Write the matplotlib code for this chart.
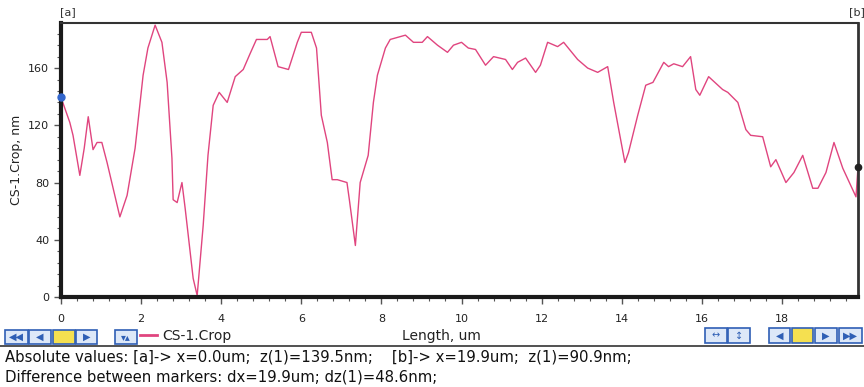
import matplotlib
matplotlib.use("Agg")
import matplotlib.pyplot as plt
from matplotlib.patches import Rectangle
from matplotlib.lines import Line2D
from matplotlib.ticker import MultipleLocator

# profile: length (um) and height (nm)
length_um = [0.0, 0.22, 0.3, 0.47, 0.58, 0.68, 0.8, 0.9, 1.02, 1.15, 1.47, 1.65,
             1.85, 2.05, 2.17, 2.35, 2.52, 2.65, 2.77, 2.8, 2.9, 3.02, 3.1, 3.3,
             3.4, 3.55, 3.67, 3.8, 3.95, 4.15, 4.35, 4.55, 4.72, 4.88, 5.15, 5.22,
             5.42, 5.68, 5.9, 6.0, 6.25, 6.38, 6.5, 6.65, 6.77, 6.9, 7.14, 7.2,
             7.35, 7.47, 7.67, 7.8, 7.9, 8.1, 8.22, 8.6, 8.8, 9.02, 9.15, 9.4,
             9.65, 9.8, 10.0, 10.17, 10.35, 10.6, 10.8, 11.1, 11.27, 11.4, 11.6,
             11.85, 11.97, 12.15, 12.4, 12.55, 12.9, 13.15, 13.4, 13.65, 13.8,
             14.08, 14.17, 14.4, 14.6, 14.78, 15.05, 15.17, 15.3, 15.52, 15.72,
             15.85, 15.95, 16.17, 16.52, 16.65, 16.9, 17.1, 17.22, 17.52, 17.72,
             17.85, 18.1, 18.3, 18.52, 18.77, 18.9, 19.1, 19.3, 19.52, 19.85, 19.9]
height_nm = [139.5, 122, 113, 85, 104, 126, 103, 108, 108, 94, 56, 71,
             104, 155, 174, 190, 178, 150, 97, 68, 66, 80, 62, 13,
             1, 50, 99, 134, 143, 136, 154, 159, 170, 180, 180, 182,
             161, 159, 178, 185, 185, 174, 127, 108, 82, 82, 80, 68,
             36, 80, 99, 136, 155, 174, 180, 183, 178, 178, 182, 176,
             171, 176, 178, 174, 173, 162, 168, 166, 159, 164, 167,
             157, 162, 178, 175, 178, 166, 160, 157, 161, 136,
             94, 101, 127, 148, 150, 164, 161, 163, 161, 168,
             145, 141, 154, 145, 143, 136, 117, 113, 112, 91,
             96, 80, 87, 99, 76, 76, 87, 108, 90, 70, 90.9]

x_ticks = [0, 2, 4, 6, 8, 10, 12, 14, 16, 18]
y_ticks = [0, 40, 80, 120, 160]

W, H = 864, 387
fig = plt.figure(figsize=(W / 100, H / 100), dpi=100)


def fx(px):
    return px / W


def fy(py):
    return 1 - py / H


ax = fig.add_axes([fx(61), fy(297), fx(858) - fx(61), fy(23) - fy(297)])
line_col = '#e0457f'
ax.plot(length_um, height_nm, color=line_col, lw=1.0)
ax.set_xlim(0, 19.9)
ax.set_ylim(0, 191.5)
ax.set_xticks(x_ticks)
ax.set_yticks(y_ticks)
ax.xaxis.set_minor_locator(MultipleLocator(0.4))
ax.yaxis.set_minor_locator(MultipleLocator(8))
ax.tick_params(which='both', direction='out', color='#555555', labelsize=8,
               labelcolor='#222222')
ax.tick_params(axis='x', which='major', pad=7)
ax.tick_params(which='major', length=5, width=1)
ax.tick_params(which='minor', length=3, width=0.8)
for s in ['left', 'bottom']:
    ax.spines[s].set_linewidth(3)
    ax.spines[s].set_color('#1a1a1a')
ax.spines['top'].set_linewidth(1.5)
ax.spines['top'].set_color('#333333')
ax.spines['right'].set_linewidth(2)
ax.spines['right'].set_color('#333333')
ax.set_ylabel('CS-1.Crop, nm', fontsize=9, color='#222222', labelpad=4)
fig.text(fx(441), fy(336), 'Length, um', fontsize=10, color='#222222',
         ha='center', va='center')

# cursor markers
ax.plot([0], [height_nm[0]], 'o', color='#3366cc', ms=5, clip_on=False, zorder=5)
ax.plot([19.9], [height_nm[-1]], 'o', color='#222222', ms=4.5, clip_on=False, zorder=5)
fig.text(fx(60), fy(12), '[a]', fontsize=8, color='#333333', va='center')
fig.text(fx(849), fy(12), '[b]', fontsize=8, color='#333333', va='center')


# toolbar buttons
def button(x0, x1, y0, y1, label='', face='white'):
    fig.add_artist(Rectangle((fx(x0), fy(y1)), fx(x1) - fx(x0), fy(y0) - fy(y1),
                             transform=fig.transFigure, facecolor=face,
                             edgecolor='#2f5fb5', lw=1.2))
    if label:
        fig.text(fx((x0 + x1) / 2), fy((y0 + y1) / 2), label, fontsize=7,
                 color='#2f5fb5', ha='center', va='center')


button(5, 28, 330, 344, '◀◀', '#dde8f8')
button(29, 51, 330, 344, '◀', '#dde8f8')
button(53, 75, 330, 344, '', '#f5e050')
button(76, 97, 330, 344, '▶', '#dde8f8')
button(115, 137, 330, 344, '▾▴', '#dde8f8')
fig.add_artist(Line2D([fx(140), fx(157)], [fy(335), fy(335)], color=line_col,
                      lw=2, transform=fig.transFigure))
fig.text(fx(162), fy(336), 'CS-1.Crop', fontsize=10, color='#222222', va='center')

button(705, 727, 328, 343, '↔', '#dde8f8')
button(728, 750, 328, 343, '↕', '#dde8f8')
button(769, 790, 328, 343, '◀', '#dde8f8')
button(792, 813, 328, 343, '', '#f5e050')
button(815, 837, 328, 343, '▶', '#dde8f8')
button(839, 862, 328, 343, '▶▶', '#dde8f8')

fig.add_artist(Line2D([0, 1], [fy(346), fy(346)], color='#333333', lw=1.2,
                      transform=fig.transFigure))
fig.text(fx(5), fy(357), 'Absolute values: [a]-> x=0.0um;  z(1)=139.5nm;    '
         '[b]-> x=19.9um;  z(1)=90.9nm;', fontsize=10.7, color='#111111', va='center')
fig.text(fx(5), fy(377), 'Difference between markers: dx=19.9um; dz(1)=48.6nm;',
         fontsize=10.7, color='#111111', va='center')

fig.savefig('out.png', dpi=100, facecolor='white')
